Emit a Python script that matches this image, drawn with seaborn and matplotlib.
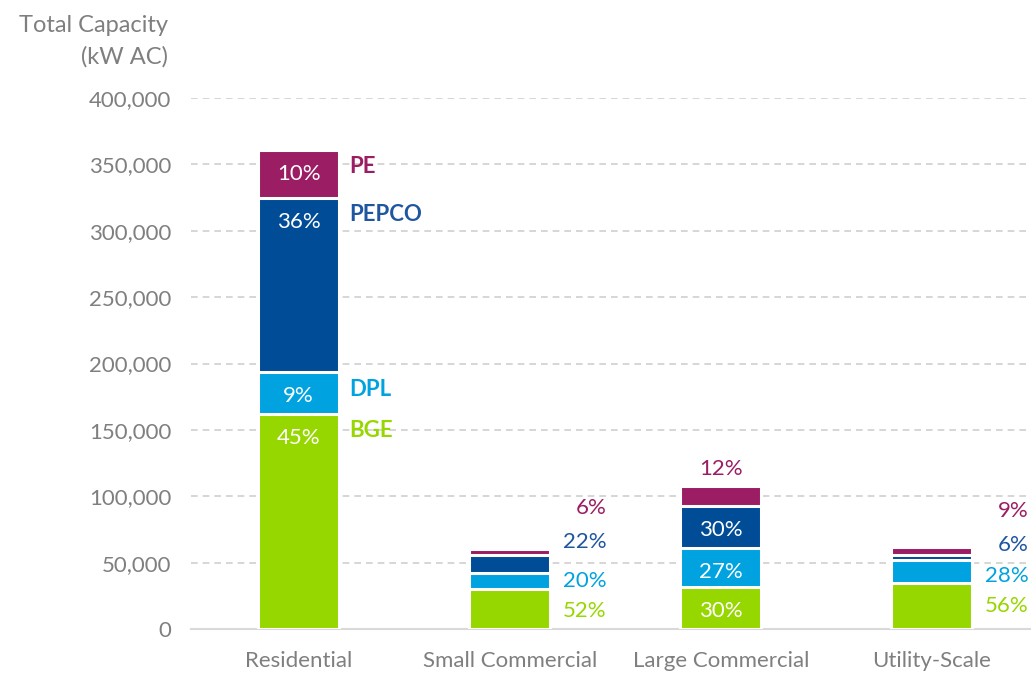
import matplotlib
matplotlib.use("Agg")
import matplotlib.pyplot as plt
import numpy as np
import pandas as pd
import seaborn as sns

# data (kW AC)
categories = ["Residential", "Small Commercial", "Large Commercial", "Utility-Scale"]
utilities = ["BGE", "DPL", "PEPCO", "PE"]
bge = [162000, 30000, 32000, 34500]
dpl = [31500, 12000, 29000, 17500]
pepco = [131500, 13500, 32000, 4000]
pe = [36000, 4500, 14500, 5500]

pct_bge = ["45%", "52%", "30%", "56%"]
pct_dpl = ["9%", "20%", "27%", "28%"]
pct_pepco = ["36%", "22%", "30%", "6%"]
pct_pe = ["10%", "6%", "12%", "9%"]

colors = {"BGE": "#97D700", "DPL": "#00A3E0", "PEPCO": "#004C97", "PE": "#9B1D63"}
text_colors = {"BGE": "#97D700", "DPL": "#00A3E0", "PEPCO": "#1F56A0", "PE": "#9B1D63"}

values = {"BGE": bge, "DPL": dpl, "PEPCO": pepco, "PE": pe}
pcts = {"BGE": pct_bge, "DPL": pct_dpl, "PEPCO": pct_pepco, "PE": pct_pe}

sns.set_style("white")
plt.rcParams["font.family"] = ["Lato", "DejaVu Sans"]

fig = plt.figure(figsize=(10.31, 6.73), dpi=100)
ax = fig.add_axes([191 / 1031, 44 / 673, 840 / 1031, 531 / 673])

# cumulative tops, drawn tallest first so the stack shows
cum = np.cumsum(np.array([values[u] for u in utilities]), axis=0)
bar_w = 0.384
for i in range(len(utilities) - 1, -1, -1):
    u = utilities[i]
    df = pd.DataFrame({"cat": categories, "val": cum[i]})
    sns.barplot(data=df, x="cat", y="val", color=colors[u], width=bar_w,
                edgecolor="white", linewidth=2.2, saturation=1, ax=ax, zorder=3)

px = 0.72  # points per pixel at dpi 100
fs = 16
# label mode for each category: inside the bars or to the right
modes = ["inside", "right", "inside", "right"]
right_shift = {1: [2, 0, -22, -44], 3: [0, 4, -12, -40]}

for j, cat in enumerate(categories):
    for i, u in enumerate(utilities):
        top = cum[i][j]
        bottom = top - values[u][j]
        if modes[j] == "inside":
            if j == 2 and u == "PE":
                ax.annotate(pcts[u][j], (j, top), xytext=(0, 7 * px), textcoords="offset points",
                            ha="center", va="bottom", color=text_colors[u], fontsize=fs)
            else:
                ax.annotate(pcts[u][j], (j, top), xytext=(0, -24 * px), textcoords="offset points",
                            ha="center", va="center", color="white", fontsize=fs)
        else:
            ax.annotate(pcts[u][j], (j + 0.46, (top + bottom) / 2),
                        xytext=(0, -right_shift[j][i] * px), textcoords="offset points",
                        ha="right", va="center", color=text_colors[u], fontsize=fs)

# company names next to the residential bar
for i, u in enumerate(utilities):
    ax.annotate(u, (0.24, cum[i][0]), xytext=(0, -17 * px), textcoords="offset points",
                ha="left", va="center", color=text_colors[u], fontsize=fs, fontweight="bold")

ax.set_xlim(-0.51, 3.47)
ax.set_ylim(0, 400000)
ax.set_yticks(np.arange(0, 400001, 50000))
ax.set_yticklabels([f"{v:,}" for v in range(0, 400001, 50000)])
ax.yaxis.grid(True, linestyle=(0, (4, 3)), color="#D0D0D0", linewidth=1.2, zorder=0)
ax.set_axisbelow(True)
for s in ["top", "right", "left"]:
    ax.spines[s].set_visible(False)
ax.spines["bottom"].set_color("#D9D9D9")
ax.spines["bottom"].set_linewidth(1.5)
ax.tick_params(axis="both", length=0, labelsize=fs, labelcolor="#7F7F7F")
ax.tick_params(axis="y", pad=14)
ax.tick_params(axis="x", pad=16)
ax.set_xlabel("")
ax.set_ylabel("")

fig.text(168 / 1031, 1 - 25 / 673, "Total Capacity", ha="right", va="center",
         fontsize=17, color="#7F7F7F")
fig.text(168 / 1031, 1 - 57 / 673, "(kW AC)", ha="right", va="center",
         fontsize=17, color="#7F7F7F")

fig.savefig("out.png", dpi=100)
